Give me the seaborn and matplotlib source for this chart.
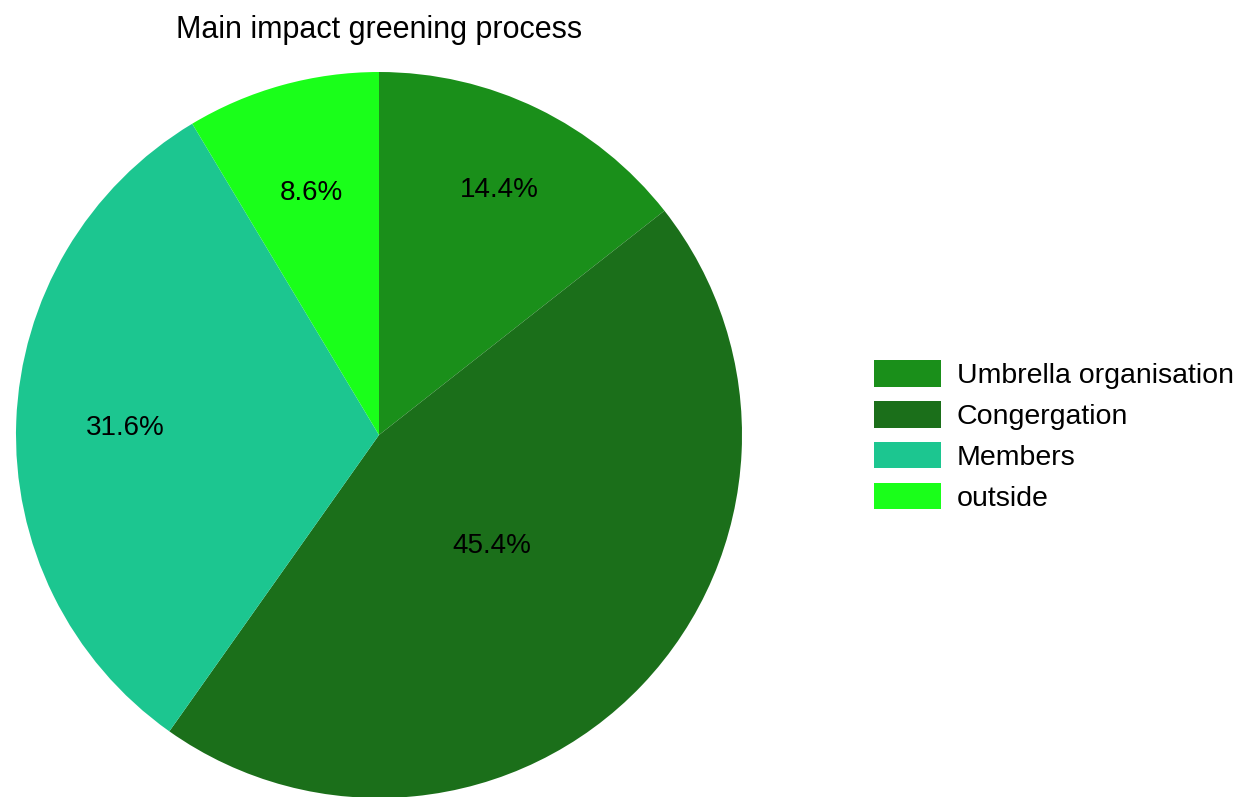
import matplotlib
matplotlib.use("Agg")
import matplotlib.pyplot as plt
import seaborn as sns
import numpy as np

# data
categories = ["Umbrella organisation", "Congergation", "Members", "outside"]
shares = [14.4, 45.4, 31.6, 8.6]
colors = ["#1a8f1a", "#1b6f1a", "#1cc690", "#1aff1a"]
# distance of each percentage label from the centre (fraction of radius)
label_dist = [0.76, 0.43, 0.70, 0.70]

sns.set_style("white")
plt.rcParams["font.family"] = ["Liberation Sans", "DejaVu Sans"]
plt.rcParams["text.color"] = "black"

fig = plt.figure(figsize=(12.43, 7.97), dpi=100)
W, H = 1243, 797
cx, cy, r = 379, 435, 363
ax = fig.add_axes([(cx - r) / W, (H - cy - r) / H, 2 * r / W, 2 * r / H])

wedges, texts, autotexts = ax.pie(
    shares,
    colors=colors,
    startangle=90,
    counterclock=False,
    autopct="%.1f%%",
    wedgeprops=dict(linewidth=0),
    textprops=dict(fontsize=20, color="black"),
)
for w, t, d in zip(wedges, autotexts, label_dist):
    ang = np.deg2rad((w.theta1 + w.theta2) / 2)
    t.set_position((d * np.cos(ang), d * np.sin(ang)))
    t.set_va("center_baseline")

ax.set_xlim(-1, 1)
ax.set_ylim(-1, 1)
ax.set_aspect("equal")
ax.axis("off")

fig.text(cx / W, 1 - 38 / H, "Main impact greening process",
         ha="center", va="baseline", fontsize=22, color="black")

leg = fig.legend(wedges, categories, loc="center left",
                 bbox_to_anchor=(874 / W, 1 - 436 / H), frameon=False,
                 fontsize=20.5, handlelength=2.35, handleheight=1.05,
                 handletextpad=0.56, labelspacing=0.42, borderpad=0,
                 borderaxespad=0)
for t in leg.get_texts():
    t.set_color("black")

fig.savefig("out.png", dpi=100)
